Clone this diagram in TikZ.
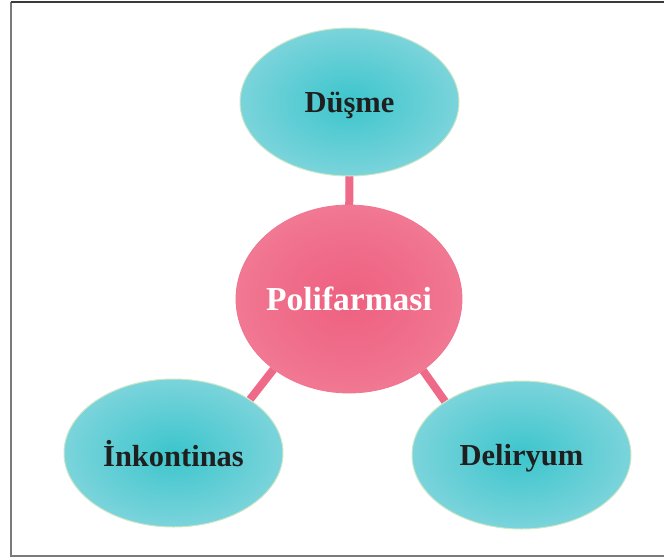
\documentclass[tikz,border=0pt]{standalone}
\usepackage{fontspec}
\setmainfont{Liberation Serif}
\usetikzlibrary{shapes.geometric,backgrounds}

\definecolor{tealin}{HTML}{3CC5CC}
\definecolor{tealout}{HTML}{ABDFE7}
\definecolor{tealrim}{HTML}{CBE7C6}
\definecolor{pinkin}{HTML}{EE6080}
\definecolor{pinkout}{HTML}{F59AAC}
\definecolor{pinkrim}{HTML}{F07590}
\definecolor{linkpink}{HTML}{EF6A88}
\definecolor{framegray}{HTML}{7A7A7A}
\definecolor{framedark}{HTML}{3A3A3A}

\pgfdeclareradialshading{tealglow}{\pgfpoint{0bp}{0bp}}{%
  color(0bp)=(tealin); color(22bp)=(tealin!50!tealout);
  color(44bp)=(tealout); color(100bp)=(tealout)}
\pgfdeclareradialshading{pinkglow}{\pgfpoint{0bp}{0bp}}{%
  color(0bp)=(pinkin); color(22bp)=(pinkin!65!pinkout);
  color(46bp)=(pinkout); color(100bp)=(pinkout)}

\tikzset{
  leaf/.style={ellipse, draw=tealrim, line width=1pt, shading=tealglow,
    minimum width=219pt, minimum height=148pt, inner sep=0pt,
    text depth=0pt,
    text=black!88, font=\fontsize{30.5}{36}\selectfont\bfseries},
  hub/.style={ellipse, draw=pinkrim, line width=0.8pt, shading=pinkglow,
    minimum width=226pt, minimum height=188pt, inner sep=0pt,
    inner xsep=-12pt,
    text=white, font=\fontsize{33.5}{40}\selectfont\bfseries},
  link/.style={draw=linkpink, line width=8pt}
}

\begin{document}
\begin{tikzpicture}[x=1pt,y=-1pt]
  \useasboundingbox (0,0) rectangle (664,558);

  % outer frame, open on the right
  \draw[framegray, line width=1.5pt] (670,556) -- (11,556) -- (11,2);
  \draw[framedark, line width=1.6pt] (11,2) -- (670,2);

  % central topic and its three effects
  \node[hub]  (pol) at (349,299) {Polifarmasi};
  \node[leaf] (dus) at (349.5,102) {Düşme};
  \node[leaf] (ink) at (173.5,453) {İnkontinas};
  \node[leaf] (del) at (521.5,455) {Deliryum};

  % connectors sit behind the ellipses
  \begin{pgfonlayer}{background}
    \draw[link] (pol.center) -- (dus.center);
    \draw[link] (pol.-137) -- (ink.35);
    \draw[link] (pol.-44) -- (del.145);
  \end{pgfonlayer}
\end{tikzpicture}
\end{document}
